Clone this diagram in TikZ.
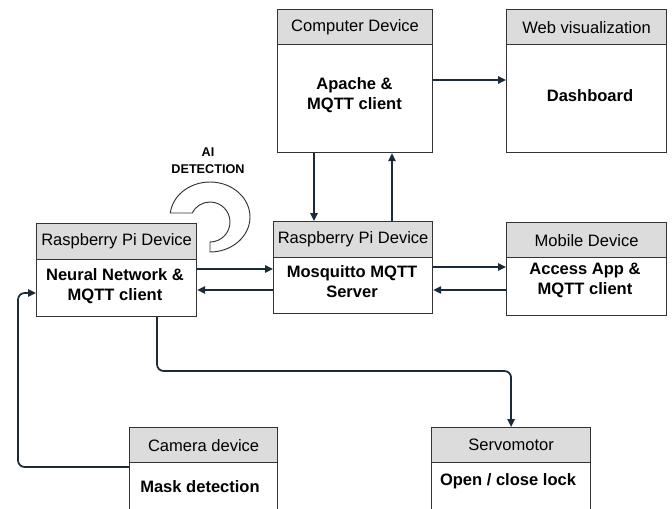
\documentclass[tikz,border=0pt]{standalone}
\usepackage{fontspec}
\setmainfont{Liberation Sans}
\usetikzlibrary{arrows.meta}
\definecolor{hdr}{HTML}{DCDCDC}
\definecolor{edgec}{HTML}{333333}
\definecolor{arrc}{HTML}{1B2A38}
\begin{document}
\begin{tikzpicture}[x=0.75pt,y=-0.75pt,
  hd/.style={draw=edgec,fill=hdr,line width=0.9pt,inner sep=0pt,anchor=north west,
    font=\fontsize{12.4}{15}\selectfont},
  bd/.style={draw=edgec,fill=white,line width=0.9pt,inner sep=0pt,anchor=north west},
  btxt/.style={align=center,inner sep=0pt,font=\bfseries\fontsize{12.4}{15}\selectfont},
  arr/.style={draw=arrc,line width=1.3pt,rounded corners=5pt,-{Triangle[length=6pt,width=5.5pt]}},
  ring/.style={draw=edgec,fill=white,line width=0.7pt},
]
\clip (0,0) rectangle (672,508);
\fill[white] (0,0) rectangle (672,508);

% helper coordinates
\coordinate (c18) at (18,0);
\coordinate (c157) at (157,0);
\coordinate (c314) at (314,0);
\coordinate (c392) at (392,0);
\coordinate (r80) at (0,80);
\coordinate (r267) at (0,267);
\coordinate (r269) at (0,269);
\coordinate (r290) at (0,290);
\coordinate (r293) at (0,293);
\coordinate (r371) at (0,371);
\coordinate (r467) at (0,467);

% AI detection ring
\draw[ring] ({210+40*cos(-173.4)},{217+35*sin(-173.4)})
  arc[start angle=-173.4,end angle=90,x radius=40,y radius=35]
  -- (210,242) arc[start angle=90,end angle=-153.3,radius=20] -- cycle;
\node[align=center,inner sep=0pt,font=\bfseries\fontsize{9.5}{12.75}\selectfont] (ai) at (208,161) {AI\\DETECTION};

% Computer device
\node[hd,minimum width=116.25pt,minimum height=26.25pt] (compH) at (277,9) {Computer Device};
\node[bd,minimum width=116.25pt,minimum height=81pt] (compB) at (277,44) {};
\node[btxt] (compT) at (354.5,95) {Apache \&\\MQTT client};

% Web visualization
\node[hd,minimum width=120pt,minimum height=26.25pt] (webH) at (506,9) {Web visualization};
\node[bd,minimum width=120pt,minimum height=81pt] (webB) at (506,44) {};
\node[btxt] (webT) at (590,96) {Dashboard};

% Raspberry Pi left
\node[hd,minimum width=120pt,minimum height=27pt] (rplH) at (36,223) {Raspberry Pi Device};
\node[bd,minimum width=120pt,minimum height=42.75pt] (rplB) at (36,259) {};
\node[btxt] (rplT) at (115,286) {Neural Network \&\\MQTT client};

% Raspberry Pi middle
\node[hd,minimum width=119.25pt,minimum height=27pt] (rpmH) at (273,221) {Raspberry Pi Device};
\node[bd,minimum width=119.25pt,minimum height=42pt] (rpmB) at (273,257) {};
\node[btxt] (rpmT) at (352,282) {Mosquitto MQTT\\Server};

% Mobile device
\node[hd,minimum width=120pt,minimum height=26.25pt] (mobH) at (506,222) {Mobile Device};
\node[bd,minimum width=120pt,minimum height=43.5pt] (mobB) at (506,257) {};
\node[btxt] (mobT) at (585,280) {Access App \&\\MQTT client};

% Camera device
\node[hd,minimum width=111pt,minimum height=26.25pt] (camH) at (129,427) {Camera device};
\node[bd,minimum width=111pt,minimum height=45pt] (camB) at (129,462) {};
\node[btxt] (camT) at (200,487) {Mask detection};

% Servomotor
\node[hd,minimum width=119.25pt,minimum height=26.25pt] (srvH) at (431,427) {Servomotor};
\node[bd,minimum width=119.25pt,minimum height=45pt] (srvB) at (431,462) {};
\node[btxt] (srvT) at (508,481) {Open / close lock};

% connectors
\draw[arr] (compB.east |- r80) -- (webB.west |- r80);
\draw[arr] (compB.south -| c314) -- (rpmH.north -| c314);
\draw[arr] (rpmH.north -| c392) -- (compB.south -| c392);
\draw[arr] (rplB.east |- r269) -- (rpmB.west |- r269);
\draw[arr] (rpmB.west |- r290) -- (rplB.east |- r290);
\draw[arr] (rpmB.east |- r267) -- (mobB.west |- r267);
\draw[arr] (mobB.west |- r290) -- (rpmB.east |- r290);
\draw[arr] (rplB.south -| c157) -- (c157 |- r371) -- (srvH.north |- r371) -- (srvH.north);
\draw[arr] (camB.west |- r467) -- (c18 |- r467) -- (c18 |- r293) -- (rplB.west |- r293);
\end{tikzpicture}
\end{document}
